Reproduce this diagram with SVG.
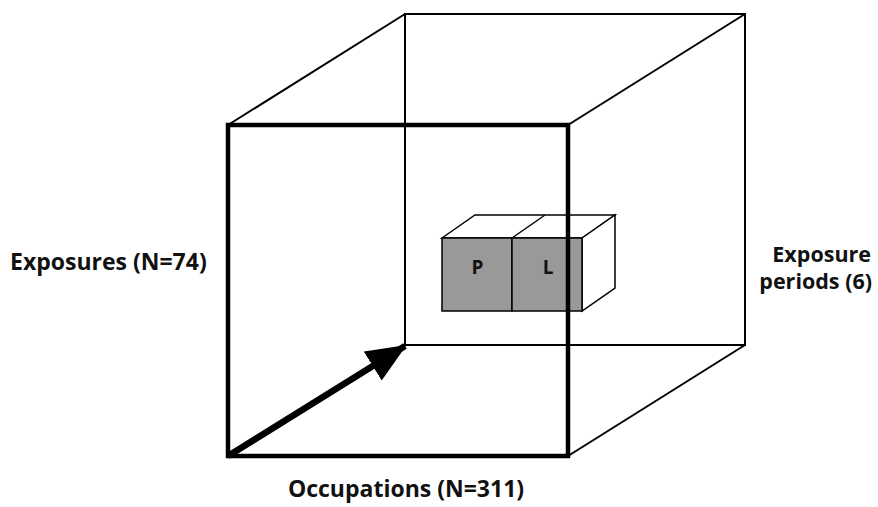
<svg xmlns="http://www.w3.org/2000/svg" width="878" height="507" viewBox="0 0 878 507">
<style>
.thin{fill:none;stroke:#000;stroke-width:2}
.thick{fill:none;stroke:#000;stroke-width:4.5}
.box{fill:#999;stroke:#000;stroke-width:1.5}
.boxw{fill:#fff;stroke:#000;stroke-width:1.5}
.lbl{font-family:"Open Sans","Noto Sans",sans-serif;font-weight:bold;font-size:23px;fill:#111}
</style>
<defs>
<marker id="ah" markerUnits="userSpaceOnUse" markerWidth="40" markerHeight="34" refX="38" refY="17" orient="auto">
<path d="M0,0 L40,17 L0,34 Z" fill="#000"/>
</marker>
</defs>
<rect x="0" y="0" width="878" height="507" fill="#fff"/>
<g id="back-face">
<rect class="thin" x="405" y="14" width="340" height="331"/>
</g>
<g id="connectors">
<line class="thin" x1="228" y1="125" x2="405" y2="14"/>
<line class="thin" x1="568" y1="125" x2="745" y2="14"/>
<line class="thin" x1="568" y1="456" x2="745" y2="345"/>
</g>
<g id="small-box">
<polygon class="boxw" points="442,238 475,215 615,215 582,238"/>
<polygon class="boxw" points="582,238 615,215 615,288 582,311"/>
<line class="thin" x1="512" y1="238" x2="545" y2="215" style="stroke-width:1.5"/>
<g id="node-P">
<rect class="box" x="442" y="238" width="70" height="73"/>
<text class="lbl" x="477.5" y="274" text-anchor="middle" style="font-size:19px">P</text>
</g>
<g id="node-L">
<rect class="box" x="512" y="238" width="70" height="73"/>
<text class="lbl" x="548" y="274" text-anchor="middle" style="font-size:19px">L</text>
</g>
</g>
<g id="front-face">
<rect class="thick" x="228" y="125" width="340" height="331"/>
</g>
<g id="arrow">
<line x1="228" y1="456" x2="405" y2="346" stroke="#000" stroke-width="6.5" marker-end="url(#ah)"/>
</g>
<g id="label-exposures">
<text class="lbl" x="10" y="270">Exposures (N=74)</text>
</g>
<g id="label-periods">
<text class="lbl" x="871" y="262" text-anchor="end" style="font-size:21.5px">Exposure</text>
<text class="lbl" x="872" y="289" text-anchor="end" style="font-size:21.5px">periods (6)</text>
</g>
<g id="label-occupations">
<text class="lbl" x="406" y="497" text-anchor="middle">Occupations (N=311)</text>
</g>
</svg>
